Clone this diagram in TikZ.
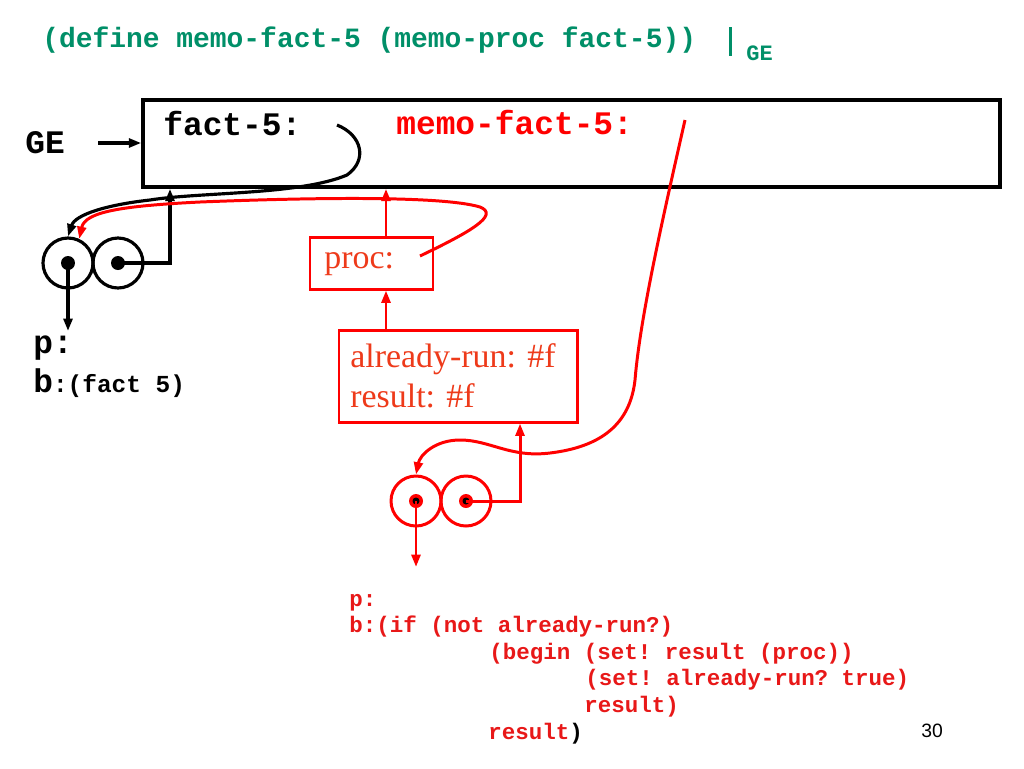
\documentclass[tikz,border=0pt]{standalone}
\usepackage{fontspec}
\setmainfont{Liberation Serif}
\setmonofont{Liberation Mono}
\newfontfamily\slidesans{Liberation Sans}
\usepackage{tikz}
\usetikzlibrary{arrows.meta,fit}
\definecolor{defgreen}{HTML}{008F68}
\definecolor{memored}{HTML}{FF0000}
\definecolor{textred}{HTML}{EE3A1A}
\definecolor{codered}{HTML}{E81818}
\newcommand\deffont{\fontsize{15.9}{19}\selectfont\ttfamily\bfseries}
\newcommand\gesubfont{\fontsize{12.5}{15}\selectfont\ttfamily\bfseries}
\newcommand\bigcode{\fontsize{18.7}{22}\selectfont\ttfamily\bfseries}
\newcommand\smallcode{\fontsize{13.9}{16}\selectfont\ttfamily\bfseries}
\newcommand\redcode{\fontsize{12.8}{15}\selectfont\ttfamily\bfseries}
\newcommand\serifbig{\fontsize{19.3}{23}\selectfont\rmfamily}
\newcommand\pagefont{\fontsize{11}{13}\selectfont\slidesans}

\begin{document}
\begin{tikzpicture}[x=0.02cm, y=-0.02cm,
  lbl/.style={inner sep=0pt, anchor=base west},
  frame/.style={draw, line width=2pt, inner sep=0pt},
  rbox/.style={draw=memored, line width=1.7pt, inner sep=0pt},
  cell/.style={circle, draw, line width=1.8pt, minimum size=1cm, inner sep=0pt},
  rcell/.style={cell, draw=memored, line width=1.7pt},
  dot/.style={circle, fill, minimum size=0.28cm, inner sep=0pt},
  rdot/.style={circle, fill=memored, minimum size=0.28cm, inner sep=0pt,
    path picture={\fill[black] (path picture bounding box.center) circle (0.07cm);}},
  ptr/.style={-{Triangle[length=7pt,width=5pt]}, line width=1.8pt},
  rptr/.style={ptr, color=memored, line width=1.7pt}]
\fill[white] (0,0) rectangle (1024,768);
\useasboundingbox (0,0) rectangle (1024,768);

\node[lbl, defgreen, font=\deffont] (title) at (42,47) {(define memo-fact-5 (memo-proc fact-5))};
\draw[defgreen, line width=1.7pt] (730,27) -- (730,56);
\node[lbl, defgreen, font=\gesubfont] (gesub) at (746,60) {GE};

\node[frame, fit={(143,100) (1000,187)}] (ge) {};
\node[lbl, font=\bigcode] (gelabel) at (25,153) {GE};
\node[lbl, font=\bigcode] (fact) at (163,135) {fact-5:};
\node[lbl, memored, font=\bigcode] (memo) at (396,134) {memo-fact-5:};

\node[cell] (c1) at (68,263) {};
\node[cell] (c2) at (118,263) {};
\node[dot] (d1) at (c1) {};
\node[dot] (d2) at (c2) {};
\node[lbl, font=\bigcode] (plabel) at (33,353) {p:};
\node[lbl] (blabel) at (33,392) {{\bigcode b}{\smallcode :(fact 5)}};

\node[rbox, fit={(310,237) (433,289)}] (proc) {};
\node[lbl, textred, font=\serifbig] (proctext) at (324,268) {proc:};
\node[rbox, fit={(339,330) (577,422)}] (env) {};
\node[lbl, textred, font=\serifbig] (envrun) at (350,367) {already-run: \#f};
\node[lbl, textred, font=\serifbig] (envresult) at (350,407) {result: \#f};

\node[rcell] (c3) at (416,501) {};
\node[rcell] (c4) at (466,501) {};
\node[rdot] (d3) at (c3) {};
\node[rdot] (d4) at (c4) {};
\node[lbl, codered, font=\redcode] (rp) at (349,606) {p:};
\node[lbl, codered, font=\redcode] (rb) at (349,632) {b:(if (not already-run?)};
\node[lbl, codered, font=\redcode] (rbegin) at (489,659) {(begin (set! result (proc))};
\node[lbl, codered, font=\redcode] (rset) at (585,685) {(set! already-run? true)};
\node[lbl, codered, font=\redcode] (rres) at (584,712) {result)};
\node[lbl, codered, font=\redcode] (rlast) at (488,739) {result{\color{black})}};

\node[lbl, font=\pagefont] (pagenum) at (921,737) {30};

\coordinate (gefrom) at (98,143);
\draw[ptr] (gefrom) -- (ge.west |- gefrom);
\coordinate (factptr) at (337,125);
\draw[ptr] (factptr) .. controls (362,135) and (368,160) .. (347,175) .. controls (300,195) and (200,192) .. (150,200) .. controls (105,205) and (75,215) .. (c1.north);
\coordinate (envlink) at (170,0);
\draw[ptr] (d2.center) -| (envlink |- ge.south);
\coordinate (ptop) at (68,331);
\draw[ptr] (d1.center) -- (ptop);

\coordinate (spine) at (386,0);
\draw[rptr] (spine |- proc.north) -- (spine |- ge.south);
\draw[rptr] (spine |- env.north) -- (spine |- proc.south);
\coordinate (procptr) at (420,256);
\draw[rptr] (procptr) .. controls (470,232) and (500,215) .. (480,207) .. controls (440,195) and (300,198) .. (200,202) .. controls (120,206) and (85,212) .. (c1.65);
\coordinate (memoptr) at (685,120);
\draw[rptr] (memoptr) .. controls (660,230) and (640,320) .. (635,380) .. controls (630,425) and (600,447) .. (550,453) .. controls (510,458) and (490,440) .. (460,440) .. controls (435,440) and (420,455) .. (c3.north);
\coordinate (resultlink) at (520,0);
\draw[rptr] (d4.center) -| (resultlink |- env.south);
\coordinate (codetop) at (416,567);
\draw[rptr] (d3.center) -- (codetop);
\end{tikzpicture}
\end{document}
